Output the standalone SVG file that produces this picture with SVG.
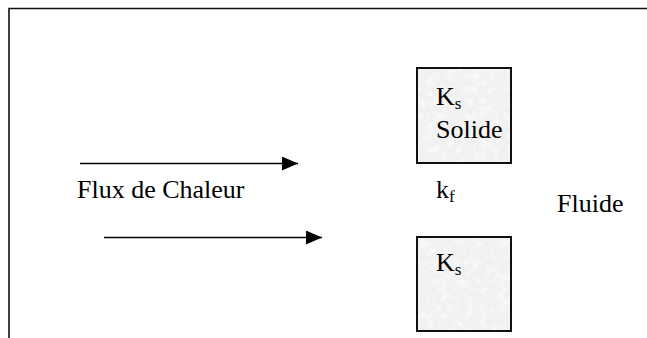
<svg xmlns="http://www.w3.org/2000/svg" width="647" height="338" viewBox="0 0 647 338">
  <style>
    .frame { fill: none; stroke: #111; stroke-width: 1.6; }
    .flow { stroke: #000; stroke-width: 1.3; fill: none; }
    .cell { fill: #f1f1f1; }
    .edge { fill: none; stroke: #111; stroke-width: 2; }
    .lbl { font-size: 26px; fill: #000; }
    .sub { font-size: 17px; }
  </style>
  <defs>
    <marker id="head" viewBox="0 0 16 14" refX="16" refY="7" markerWidth="16" markerHeight="14" markerUnits="userSpaceOnUse" orient="auto">
      <path d="M0,0 L16,7 L0,14 Z" fill="#000"/>
    </marker>
    <filter id="grain" x="0" y="0" width="1" height="1">
      <feTurbulence type="fractalNoise" baseFrequency="0.15" numOctaves="3" seed="7" result="noise"/>
      <feColorMatrix in="noise" type="matrix" values="0 0 0 0 1  0 0 0 0 1  0 0 0 0 1  0 0 0 1.6 -0.7" result="spots"/>
      <feComposite in="spots" in2="SourceGraphic" operator="in" result="clipped"/>
      <feMerge>
        <feMergeNode in="SourceGraphic"/>
        <feMergeNode in="clipped"/>
      </feMerge>
    </filter>
  </defs>

  <!-- open outer frame: top and left edges only -->
  <path class="frame" d="M9,338 L9,8.5 L647,8.5"/>

  <!-- heat flux arrows -->
  <g id="connectors">
    <line class="flow" x1="80" y1="163.5" x2="298" y2="163.5" marker-end="url(#head)"/>
    <line class="flow" x1="104" y1="237.5" x2="322" y2="237.5" marker-end="url(#head)"/>
  </g>

  <g id="flux-label" font-family="'Liberation Serif', 'DejaVu Serif', serif">
    <text class="lbl" x="77" y="198">Flux de Chaleur</text>
  </g>

  <g id="solid-top" font-family="'Liberation Serif', 'DejaVu Serif', serif">
    <rect class="cell" x="417" y="68" width="94" height="95" filter="url(#grain)"/>
    <rect class="edge" x="417" y="68" width="94" height="95"/>
    <text class="lbl" x="436" y="105">K<tspan class="sub" dy="4">s</tspan></text>
    <text class="lbl" x="436" y="138">Solide</text>
  </g>

  <g id="fluid-conductivity" font-family="'Liberation Serif', 'DejaVu Serif', serif">
    <text class="lbl" x="436" y="198">k<tspan class="sub" dy="4">f</tspan></text>
  </g>

  <g id="fluid-label" font-family="'Liberation Serif', 'DejaVu Serif', serif">
    <text class="lbl" x="557" y="212">Fluide</text>
  </g>

  <g id="solid-bottom" font-family="'Liberation Serif', 'DejaVu Serif', serif">
    <rect class="cell" x="417" y="237" width="94" height="94" filter="url(#grain)"/>
    <rect class="edge" x="417" y="237" width="94" height="94"/>
    <text class="lbl" x="436" y="271">K<tspan class="sub" dy="4">s</tspan></text>
  </g>
</svg>
